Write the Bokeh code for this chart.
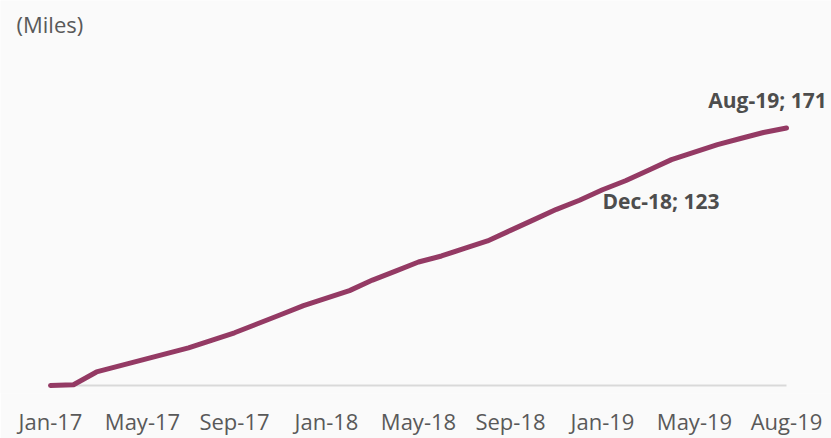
from bokeh.plotting import figure
from bokeh.models import Range1d, FixedTicker, Label
from bokeh.embed import file_html
from bokeh.resources import INLINE

# ---- data ----
slots = list(range(33))
miles = [0, 0.5, 9, 13, 17, 21, 25, 30, 35, 41, 47, 53, 58, 63, 70, 76, 82, 86,
         91, 96, 103, 110, 117, 123, 130, 136, 143, 150, 155, 160, 164, 168, 171]
tick_slots = [0, 4, 8, 12, 16, 20, 24, 28, 32]
tick_labels = ["Jan-17", "May-17", "Sep-17", "Jan-18", "May-18", "Sep-18",
               "Jan-19", "May-19", "Aug-19"]
callout_slots = [23, 32]
callout_months = ["Dec-18", "Aug-19"]
unit_label = "(Miles)"

LINE = "#943A64"
GRAY = "#595959"
BG = "#fafafa"

W, H = 831, 438
px_per_slot = 23.0
x0_page = 50.0
px_per_unit = (385 - 127.5) / 171.0
zero_page = 385.0
frame_bottom_page = 393.0

x_start = (0 - x0_page) / px_per_slot
x_end = (W - x0_page) / px_per_slot
y_start = -(frame_bottom_page - zero_page) / px_per_unit
y_end = zero_page / px_per_unit

p = figure(width=W, height=H, output_backend="svg", toolbar_location=None,
           x_range=Range1d(x_start, x_end), y_range=Range1d(y_start, y_end),
           y_axis_type=None, min_border_left=0, min_border_right=0,
           min_border_top=0, min_border_bottom=int(H - frame_bottom_page))
p.background_fill_color = BG
p.border_fill_color = BG
p.outline_line_color = None
p.xgrid.visible = False
p.ygrid.visible = False

ax = p.xaxis[0]
ax.ticker = FixedTicker(ticks=tick_slots)
ax.major_label_overrides = {s: t for s, t in zip(tick_slots, tick_labels)}
ax.axis_line_color = None
ax.major_tick_line_color = None
ax.minor_tick_line_color = None
ax.major_tick_out = 0
ax.major_tick_in = 0
ax.major_label_standoff = 12
ax.major_label_text_font = "Open Sans"
ax.major_label_text_font_size = "22px"
ax.major_label_text_color = GRAY

# baseline
p.segment(x0=[slots[0]], y0=[0], x1=[slots[-1]], y1=[0],
          line_color="#d9d9d9", line_width=2)

p.line(slots, miles, line_color=LINE, line_width=5, line_join="round",
       line_cap="round")

# callouts
c0 = callout_slots[0]
p.add_layout(Label(x=c0, y=miles[c0], text=f"{callout_months[0]}; {miles[c0]}",
                   x_offset=23, y_offset=-1, text_align="left",
                   text_baseline="middle", text_font="Open Sans",
                   text_font_size="21px", text_font_style="bold",
                   text_color="#4d4d4d"))
c1 = callout_slots[1]
p.add_layout(Label(x=c1, y=miles[c1], text=f"{callout_months[1]}; {miles[c1]}",
                   x_offset=-19, y_offset=28.5, text_align="center",
                   text_baseline="middle", text_font="Open Sans",
                   text_font_size="21px", text_font_style="bold",
                   text_color="#4d4d4d"))

# unit label
p.add_layout(Label(x=(16 - x0_page) / px_per_slot, y=(zero_page - 23.5) / px_per_unit,
                   text=unit_label, text_align="left", text_baseline="middle",
                   text_font="Open Sans", text_font_size="22px", text_color=GRAY))

open("out.html", "w").write(file_html(p, INLINE))
